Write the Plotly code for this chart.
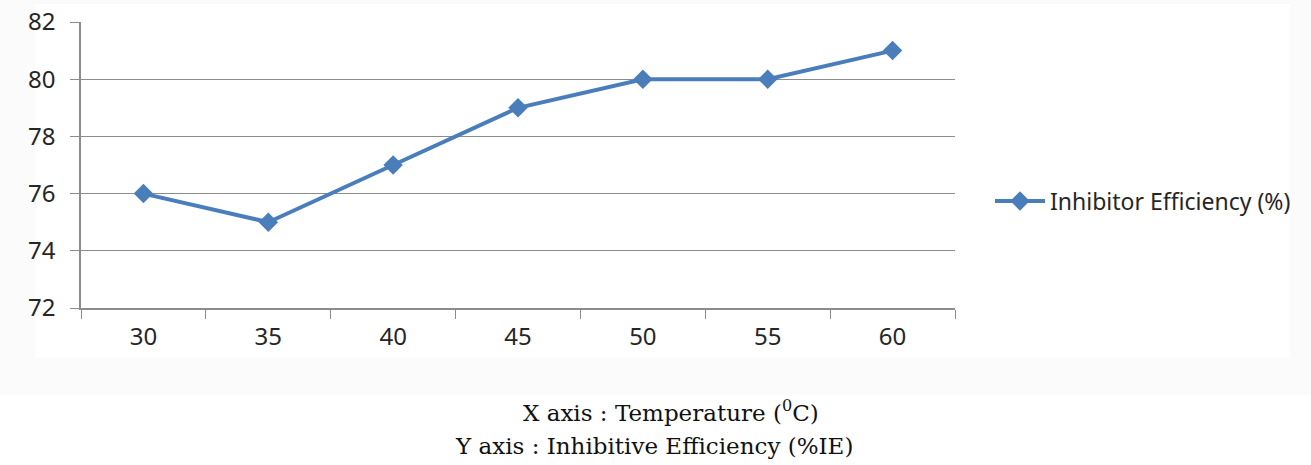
import plotly.graph_objects as go

# Temperature categories and inhibitor efficiency values
temperatures = ["30", "35", "40", "45", "50", "55", "60"]
efficiency = [76, 75, 77, 79, 80, 80, 81]
series_name = "Inhibitor Efficiency (%)"
caption_x = "X axis : Temperature (<sup>0</sup>C)"
caption_y = "Y axis : Inhibitive Efficiency (%IE)"

W, H = 1311, 465
L, R, T, B = 81, 356, 22, 157
plot_w = W - L - R
plot_h = H - T - B

blue = "#4A7EBB"
grid = "#8C8C8C"
tick_font = dict(family="Noto Sans, Open Sans, sans-serif", size=24, color="#262626")
caption_font = dict(family="DejaVu Serif, Liberation Serif, serif", size=23, color="#111")

fig = go.Figure()
fig.add_trace(go.Scatter(
    x=temperatures,
    y=efficiency,
    mode="lines+markers",
    name=series_name,
    line=dict(color=blue, width=4),
    marker=dict(symbol="diamond", size=15, color=blue),
))

# faint frame around the chart area
fig.add_shape(type="rect", xref="paper", yref="paper",
              x0=-L / plot_w, x1=(W - L) / plot_w,
              y0=-(395 - (T + plot_h)) / plot_h, y1=(T + plot_h) / plot_h,
              fillcolor="#FBFBFB", line=dict(width=0), layer="below")
fig.add_shape(type="rect", xref="paper", yref="paper",
              x0=-(L - 35) / plot_w, x1=(1290 - L) / plot_w,
              y0=-(358 - (T + plot_h)) / plot_h, y1=(T + plot_h - 4) / plot_h,
              fillcolor="#FFFFFF", line=dict(width=0), layer="below")

fig.update_layout(
    width=W, height=H,
    margin=dict(l=L, r=R, t=T, b=B, autoexpand=False),
    paper_bgcolor="white",
    plot_bgcolor="rgba(0,0,0,0)",
    showlegend=True,
    legend=dict(
        x=(990 - L) / plot_w, y=(T + plot_h - 201) / plot_h,
        xanchor="left", yanchor="middle",
        font=dict(family="Noto Sans, Open Sans, sans-serif", size=23, color="#262626"),
        bgcolor="rgba(0,0,0,0)", itemwidth=50,
    ),
    xaxis=dict(
        type="category",
        range=[-0.5, 6.5],
        showgrid=False,
        showline=True, linecolor=grid, linewidth=1.5,
        ticks="outside", tickson="boundaries", ticklen=9, tickcolor=grid,
        tickfont=tick_font,
        ticklabelstandoff=6,
    ),
    yaxis=dict(
        range=[72, 82], dtick=2,
        showgrid=True, gridcolor=grid, gridwidth=1,
        showline=True, linecolor=grid, linewidth=1.5,
        ticks="outside", ticklen=9, tickcolor=grid,
        tickfont=tick_font,
        ticklabelstandoff=10,
        zeroline=False,
    ),
    annotations=[
        dict(text=caption_x, xref="paper", yref="paper",
             x=(671 - L) / plot_w, y=(T + plot_h - 411) / plot_h,
             xanchor="center", yanchor="middle", showarrow=False,
             font=caption_font),
        dict(text=caption_y, xref="paper", yref="paper",
             x=(654 - L) / plot_w, y=(T + plot_h - 446) / plot_h,
             xanchor="center", yanchor="middle", showarrow=False,
             font=caption_font),
    ],
)

fig.write_html("out.html")
